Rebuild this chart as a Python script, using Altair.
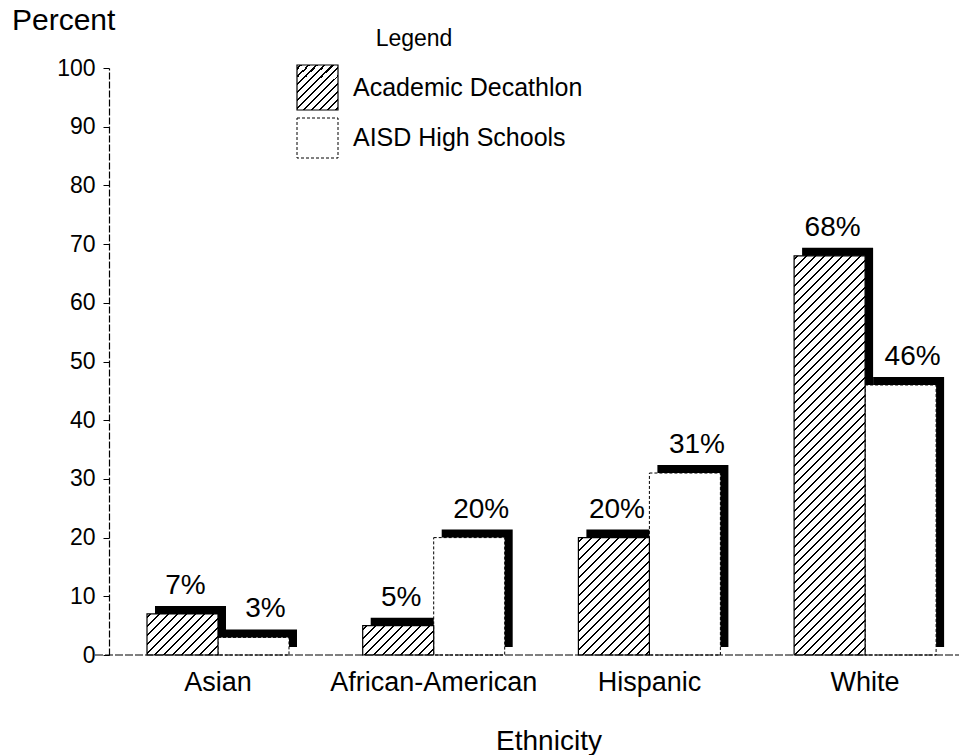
import altair as alt
import pandas as pd

categories = ["Asian", "African-American", "Hispanic", "White"]
series = ["Academic Decathlon", "AISD High Schools"]
academic = [7, 5, 20, 68]
aisd = [3, 20, 31, 46]
y_ticks = [0, 10, 20, 30, 40, 50, 60, 70, 80, 90, 100]

rows = []
for c, a, b in zip(categories, academic, aisd):
    rows.append({"cat": c, "series": series[0], "value": a, "label": f"{a}%"})
    rows.append({"cat": c, "series": series[1], "value": b, "label": f"{b}%"})
df = pd.DataFrame(rows)

W, H = 845, 587
FONT = "Liberation Sans"
BAR_W = 71.0
SH = 8


def hatch(w, h, spacing=9.0, lw=2.0):
    L = w + h
    s = L / (w * w + h * h)
    stops = []
    k = 0
    while True:
        a = (k * spacing + 3) / L
        if a >= 1:
            break
        b = min((k * spacing + 3 + lw) / L, 1.0)
        stops += [
            alt.GradientStop(color="white", offset=a),
            alt.GradientStop(color="black", offset=a),
            alt.GradientStop(color="black", offset=b),
            alt.GradientStop(color="white", offset=b),
        ]
        k += 1
    return alt.LinearGradient(gradient="linear", stops=stops, x1=0, y1=0, x2=s * w, y2=s * h)


y_axis = alt.Axis(
    values=y_ticks, labelFont=FONT, labelFontSize=23, labelColor="black",
    tickSize=6, tickColor="black", labelPadding=8, domainColor="black",
    domainDash=[7, 2], domainWidth=1.2, grid=False, labelFlush=False,
)
x_axis = alt.Axis(
    labelFont=FONT, labelFontSize=27, labelColor="black", domain=False,
    ticks=False, labelPadding=14, labelAngle=0, grid=False, labelLimit=0,
)


def xenc():
    return alt.X(
        "cat:N",
        sort=categories,
        axis=x_axis,
        title=None,
        scale=alt.Scale(range=[38, 827.1], paddingInner=0.3417, paddingOuter=0),
    )


xoff = alt.XOffset("series:N", sort=series, scale=alt.Scale(paddingInner=0, paddingOuter=0))


def yenc():
    return alt.Y("value:Q", axis=y_axis, title=None, scale=alt.Scale(domain=[0, 100], nice=False))


base = alt.Chart(df)

shadow_a = base.transform_filter(alt.datum.series == series[0]).mark_bar(
    color="black", width=BAR_W, xOffset=-BAR_W / 2 + SH, yOffset=-SH
).encode(x=xenc(), y=yenc())
shadow_b = base.transform_filter(alt.datum.series == series[1]).mark_bar(
    color="black", width=BAR_W, xOffset=BAR_W / 2 + SH, yOffset=-SH
).encode(x=xenc(), y=yenc())

aisd_bars = base.transform_filter(alt.datum.series == series[1]).mark_bar(
    fill="white", stroke="black", strokeWidth=1, strokeDash=[3, 2]
).encode(x=xenc(), xOffset=xoff, y=yenc())

hatch_layers = []
for c, v in zip(categories, academic):
    hatch_layers.append(
        base.transform_filter(
            (alt.datum.series == series[0]) & (alt.datum.cat == c)
        ).mark_bar(fill=hatch(BAR_W, v * H / 100), stroke="black", strokeWidth=1.2)
        .encode(x=xenc(), xOffset=xoff, y=yenc())
    )

labels_a = base.transform_filter(alt.datum.series == series[0]).mark_text(
    font=FONT, fontSize=28, color="black", baseline="alphabetic", dy=-20, dx=3
).encode(x=xenc(), xOffset=xoff, y=yenc(), text="label:N")
labels_b = base.transform_filter(alt.datum.series == series[1]).mark_text(
    font=FONT, fontSize=28, color="black", baseline="alphabetic", dy=-20, dx=12
).encode(x=xenc(), xOffset=xoff, y=yenc(), text="label:N")

one = alt.Data(values=[{"k": 1}])

baseline = alt.Chart(one).mark_rule(color="black", strokeWidth=1.2, strokeDash=[8, 2]).encode(
    x=alt.value(-14), x2=alt.value(850), y=alt.value(H)
)

title_y = alt.Chart(one).mark_text(font=FONT, fontSize=30, align="left", baseline="alphabetic").encode(
    x=alt.value(-97), y=alt.value(-38), text=alt.value("Percent")
)
title_x = alt.Chart(one).mark_text(font=FONT, fontSize=28, align="center", baseline="alphabetic").encode(
    x=alt.value(440), y=alt.value(682), text=alt.value("Ethnicity")
)

leg_title = alt.Chart(one).mark_text(font=FONT, fontSize=23, align="center", baseline="alphabetic").encode(
    x=alt.value(305), y=alt.value(-22), text=alt.value("Legend")
)
leg_box1 = alt.Chart(one).mark_rect(fill=hatch(41, 45, spacing=8.0), stroke="black", strokeWidth=1.2).encode(
    x=alt.value(188), x2=alt.value(229), y=alt.value(-3), y2=alt.value(42)
)
leg_box2 = alt.Chart(one).mark_rect(fill="white", stroke="black", strokeWidth=1, strokeDash=[3, 2]).encode(
    x=alt.value(188), x2=alt.value(229), y=alt.value(50), y2=alt.value(90)
)
leg_t1 = alt.Chart(one).mark_text(font=FONT, fontSize=25, align="left", baseline="alphabetic").encode(
    x=alt.value(244), y=alt.value(28), text=alt.value(series[0])
)
leg_t2 = alt.Chart(one).mark_text(font=FONT, fontSize=25, align="left", baseline="alphabetic").encode(
    x=alt.value(244), y=alt.value(78), text=alt.value(series[1])
)

chart = alt.layer(
    shadow_a, shadow_b, aisd_bars, *hatch_layers, labels_a, labels_b, baseline,
    title_y, title_x, leg_title, leg_box1, leg_box2, leg_t1, leg_t2,
).properties(
    width=W, height=H,
    autosize=alt.AutoSizeParams(type="none"),
    padding={"left": 109, "top": 68, "right": 5, "bottom": 100},
).configure(background="white", view=alt.ViewConfig(stroke=None))

chart.save("out.html", embed_options={"renderer": "svg", "actions": False})
